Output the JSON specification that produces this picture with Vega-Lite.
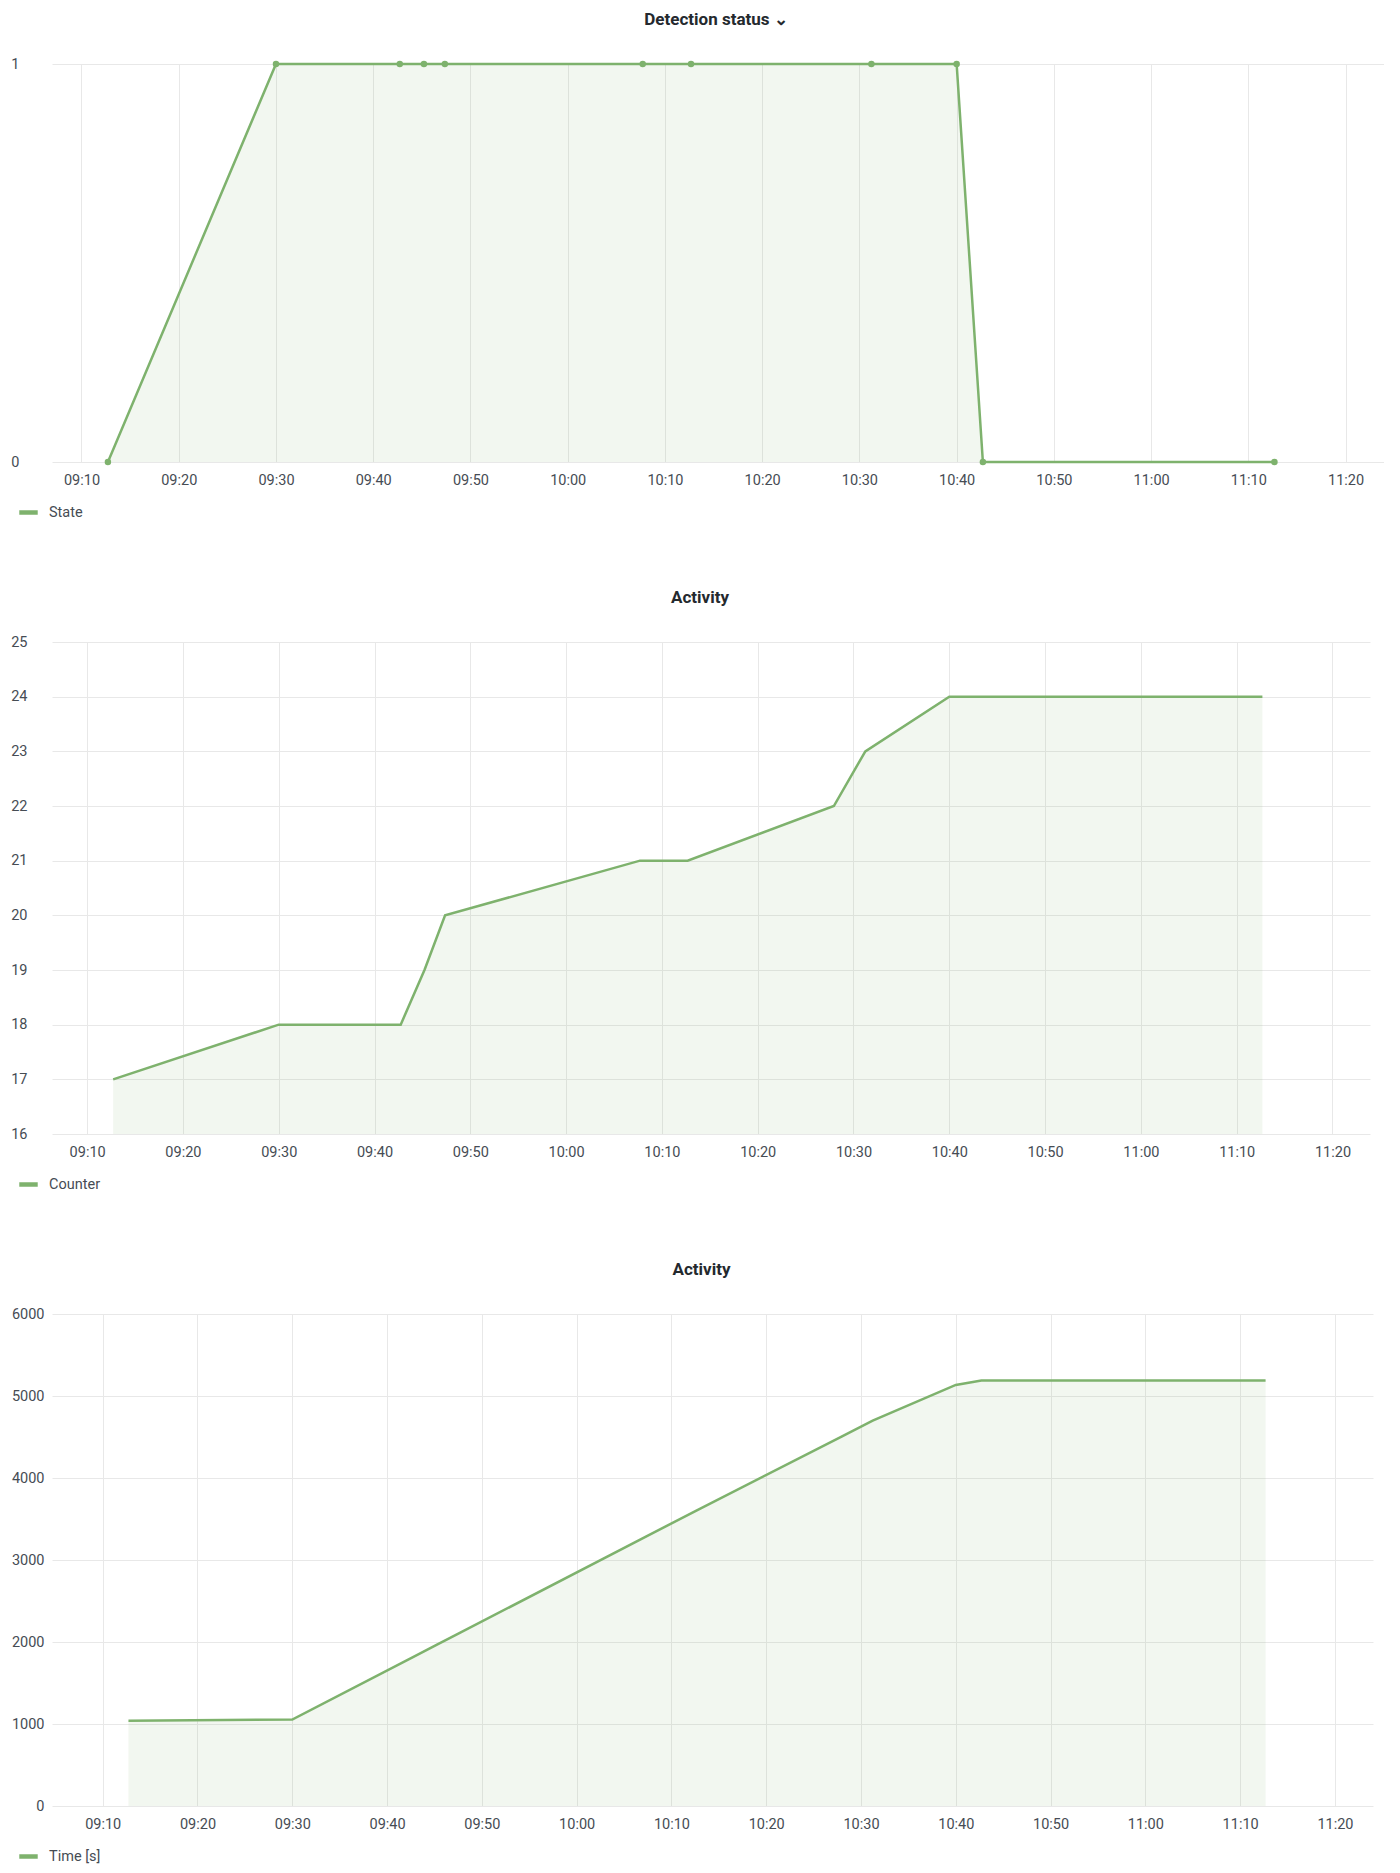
{
  "$schema": "https://vega.github.io/schema/vega-lite/v6.json",
  "background": "white",
  "padding": {"left": 10, "top": 11, "right": 0, "bottom": 0},
  "datasets": {
    "state": [
      {"t": "2023-01-01T09:12:43", "v": 0, "series": "State"},
      {"t": "2023-01-01T09:30:00", "v": 1, "series": "State"},
      {"t": "2023-01-01T09:42:44", "v": 1, "series": "State"},
      {"t": "2023-01-01T09:45:13", "v": 1, "series": "State"},
      {"t": "2023-01-01T09:47:22", "v": 1, "series": "State"},
      {"t": "2023-01-01T10:07:43", "v": 1, "series": "State"},
      {"t": "2023-01-01T10:12:41", "v": 1, "series": "State"},
      {"t": "2023-01-01T10:31:14", "v": 1, "series": "State"},
      {"t": "2023-01-01T10:40:00", "v": 1, "series": "State"},
      {"t": "2023-01-01T10:42:42", "v": 0, "series": "State"},
      {"t": "2023-01-01T11:12:41", "v": 0, "series": "State"}
    ],
    "counter": [
      {"t": "2023-01-01T09:12:43", "v": 17, "series": "Counter"},
      {"t": "2023-01-01T09:30:00", "v": 18, "series": "Counter"},
      {"t": "2023-01-01T09:42:44", "v": 18, "series": "Counter"},
      {"t": "2023-01-01T09:45:13", "v": 19, "series": "Counter"},
      {"t": "2023-01-01T09:47:22", "v": 20, "series": "Counter"},
      {"t": "2023-01-01T10:07:43", "v": 21, "series": "Counter"},
      {"t": "2023-01-01T10:12:41", "v": 21, "series": "Counter"},
      {"t": "2023-01-01T10:27:57", "v": 22, "series": "Counter"},
      {"t": "2023-01-01T10:31:14", "v": 23, "series": "Counter"},
      {"t": "2023-01-01T10:40:00", "v": 24, "series": "Counter"},
      {"t": "2023-01-01T10:42:42", "v": 24, "series": "Counter"},
      {"t": "2023-01-01T11:12:41", "v": 24, "series": "Counter"}
    ],
    "time": [
      {"t": "2023-01-01T09:12:43", "v": 1040, "series": "Time [s]"},
      {"t": "2023-01-01T09:30:00", "v": 1055, "series": "Time [s]"},
      {"t": "2023-01-01T09:42:44", "v": 1815, "series": "Time [s]"},
      {"t": "2023-01-01T09:45:13", "v": 1965, "series": "Time [s]"},
      {"t": "2023-01-01T09:47:22", "v": 2092, "series": "Time [s]"},
      {"t": "2023-01-01T10:07:43", "v": 3310, "series": "Time [s]"},
      {"t": "2023-01-01T10:12:41", "v": 3605, "series": "Time [s]"},
      {"t": "2023-01-01T10:27:57", "v": 4505, "series": "Time [s]"},
      {"t": "2023-01-01T10:31:14", "v": 4700, "series": "Time [s]"},
      {"t": "2023-01-01T10:40:00", "v": 5135, "series": "Time [s]"},
      {"t": "2023-01-01T10:42:42", "v": 5188, "series": "Time [s]"},
      {"t": "2023-01-01T11:12:41", "v": 5188, "series": "Time [s]"}
    ]
  },
  "config": {
    "font": "Roboto",
    "view": {"stroke": null},
    "axis": {
      "labelFont": "Roboto",
      "labelFontSize": 14.5,
      "labelColor": "#464c54",
      "grid": true,
      "gridColor": "#e8e8e8",
      "domain": false,
      "ticks": false,
      "title": null
    },
    "axisX": {"labelPadding": 11},
    "axisY": {"labelPadding": 8},
    "title": {
      "font": "Roboto",
      "fontSize": 17,
      "fontWeight": "bold",
      "color": "#24292e",
      "anchor": "middle",
      "frame": "group",
      "offset": 27
    },
    "legend": {
      "orient": "none",
      "title": null,
      "symbolType": "stroke",
      "symbolStrokeWidth": 4.5,
      "symbolSize": 340,
      "labelFont": "Roboto",
      "labelFontSize": 14.5,
      "labelColor": "#464c54",
      "labelOffset": 9
    }
  },
  "columns": 1,
  "spacing": 67,
  "resolve": {"scale": {"color": "independent"}, "legend": {"color": "independent"}},
  "concat": [
    {
      "width": 1332,
      "height": 398,
      "title": {"text": "Detection status ⌄", "dx": -2},
      "data": {"name": "state"},
      "encoding": {
        "x": {
          "field": "t",
          "type": "temporal",
          "scale": {"domain": ["2023-01-01T09:06:58", "2023-01-01T11:23:57"]},
          "axis": {
            "format": "%H:%M",
            "values": [
              {"year": 2023, "month": 1, "date": 1, "hours": 9, "minutes": 10},
              {"year": 2023, "month": 1, "date": 1, "hours": 9, "minutes": 20},
              {"year": 2023, "month": 1, "date": 1, "hours": 9, "minutes": 30},
              {"year": 2023, "month": 1, "date": 1, "hours": 9, "minutes": 40},
              {"year": 2023, "month": 1, "date": 1, "hours": 9, "minutes": 50},
              {"year": 2023, "month": 1, "date": 1, "hours": 10, "minutes": 0},
              {"year": 2023, "month": 1, "date": 1, "hours": 10, "minutes": 10},
              {"year": 2023, "month": 1, "date": 1, "hours": 10, "minutes": 20},
              {"year": 2023, "month": 1, "date": 1, "hours": 10, "minutes": 30},
              {"year": 2023, "month": 1, "date": 1, "hours": 10, "minutes": 40},
              {"year": 2023, "month": 1, "date": 1, "hours": 10, "minutes": 50},
              {"year": 2023, "month": 1, "date": 1, "hours": 11, "minutes": 0},
              {"year": 2023, "month": 1, "date": 1, "hours": 11, "minutes": 10},
              {"year": 2023, "month": 1, "date": 1, "hours": 11, "minutes": 20}
            ]
          }
        },
        "y": {
          "field": "v",
          "type": "quantitative",
          "scale": {"domain": [0, 1], "nice": false},
          "axis": {"values": [0, 1], "format": "d", "labelPadding": 33}
        },
        "color": {
          "field": "series",
          "type": "nominal",
          "scale": {"domain": ["State"], "range": ["#7eb26d"]},
          "legend": {"legendX": -35, "legendY": 437}
        }
      },
      "layer": [
        {"mark": {"type": "area", "fillOpacity": 0.1}},
        {"mark": {"type": "line", "strokeWidth": 2.5, "point": {"filled": true, "size": 42}}}
      ]
    },
    {
      "width": 1318,
      "height": 492,
      "title": {"text": "Activity", "dx": -11},
      "data": {"name": "counter"},
      "encoding": {
        "x": {
          "field": "t",
          "type": "temporal",
          "scale": {"domain": ["2023-01-01T09:06:20", "2023-01-01T11:23:55"]},
          "axis": {
            "format": "%H:%M",
            "values": [
              {"year": 2023, "month": 1, "date": 1, "hours": 9, "minutes": 10},
              {"year": 2023, "month": 1, "date": 1, "hours": 9, "minutes": 20},
              {"year": 2023, "month": 1, "date": 1, "hours": 9, "minutes": 30},
              {"year": 2023, "month": 1, "date": 1, "hours": 9, "minutes": 40},
              {"year": 2023, "month": 1, "date": 1, "hours": 9, "minutes": 50},
              {"year": 2023, "month": 1, "date": 1, "hours": 10, "minutes": 0},
              {"year": 2023, "month": 1, "date": 1, "hours": 10, "minutes": 10},
              {"year": 2023, "month": 1, "date": 1, "hours": 10, "minutes": 20},
              {"year": 2023, "month": 1, "date": 1, "hours": 10, "minutes": 30},
              {"year": 2023, "month": 1, "date": 1, "hours": 10, "minutes": 40},
              {"year": 2023, "month": 1, "date": 1, "hours": 10, "minutes": 50},
              {"year": 2023, "month": 1, "date": 1, "hours": 11, "minutes": 0},
              {"year": 2023, "month": 1, "date": 1, "hours": 11, "minutes": 10},
              {"year": 2023, "month": 1, "date": 1, "hours": 11, "minutes": 20}
            ]
          }
        },
        "y": {
          "field": "v",
          "type": "quantitative",
          "scale": {"domain": [16, 25], "nice": false, "zero": false},
          "axis": {"values": [16, 17, 18, 19, 20, 21, 22, 23, 24, 25], "labelPadding": 25}
        },
        "color": {
          "field": "series",
          "type": "nominal",
          "scale": {"domain": ["Counter"], "range": ["#7eb26d"]},
          "legend": {"legendX": -35, "legendY": 531}
        }
      },
      "layer": [
        {"mark": {"type": "area", "fillOpacity": 0.1}, "encoding": {"y2": {"datum": 16}}},
        {"mark": {"type": "line", "strokeWidth": 2.5}}
      ]
    },
    {
      "width": 1321,
      "height": 492,
      "title": {"text": "Activity", "dx": -11},
      "data": {"name": "time"},
      "encoding": {
        "x": {
          "field": "t",
          "type": "temporal",
          "scale": {"domain": ["2023-01-01T09:04:39", "2023-01-01T11:24:01"]},
          "axis": {
            "format": "%H:%M",
            "values": [
              {"year": 2023, "month": 1, "date": 1, "hours": 9, "minutes": 10},
              {"year": 2023, "month": 1, "date": 1, "hours": 9, "minutes": 20},
              {"year": 2023, "month": 1, "date": 1, "hours": 9, "minutes": 30},
              {"year": 2023, "month": 1, "date": 1, "hours": 9, "minutes": 40},
              {"year": 2023, "month": 1, "date": 1, "hours": 9, "minutes": 50},
              {"year": 2023, "month": 1, "date": 1, "hours": 10, "minutes": 0},
              {"year": 2023, "month": 1, "date": 1, "hours": 10, "minutes": 10},
              {"year": 2023, "month": 1, "date": 1, "hours": 10, "minutes": 20},
              {"year": 2023, "month": 1, "date": 1, "hours": 10, "minutes": 30},
              {"year": 2023, "month": 1, "date": 1, "hours": 10, "minutes": 40},
              {"year": 2023, "month": 1, "date": 1, "hours": 10, "minutes": 50},
              {"year": 2023, "month": 1, "date": 1, "hours": 11, "minutes": 0},
              {"year": 2023, "month": 1, "date": 1, "hours": 11, "minutes": 10},
              {"year": 2023, "month": 1, "date": 1, "hours": 11, "minutes": 20}
            ]
          }
        },
        "y": {
          "field": "v",
          "type": "quantitative",
          "scale": {"domain": [0, 6000], "nice": false},
          "axis": {"values": [0, 1000, 2000, 3000, 4000, 5000, 6000], "format": "d"}
        },
        "color": {
          "field": "series",
          "type": "nominal",
          "scale": {"domain": ["Time [s]"], "range": ["#7eb26d"]},
          "legend": {"legendX": -35, "legendY": 531}
        }
      },
      "layer": [
        {"mark": {"type": "area", "fillOpacity": 0.1}},
        {"mark": {"type": "line", "strokeWidth": 2.5}}
      ]
    }
  ]
}
